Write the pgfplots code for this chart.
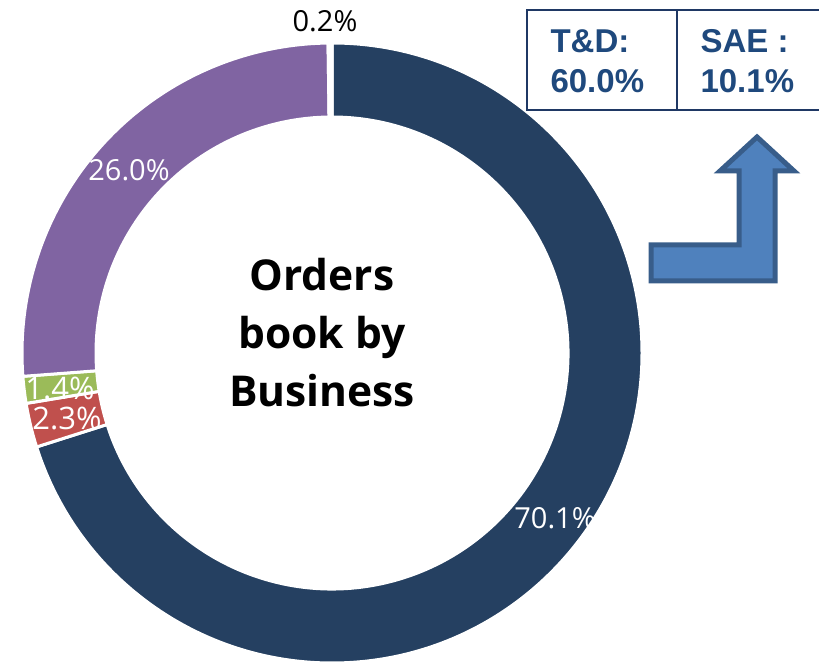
\documentclass[border=0pt]{standalone}
\usepackage{pgfplots}
\pgfplotsset{compat=1.18}
\usepackage{pgfplotstable}
\usetikzlibrary{calc}
\usepackage{fontspec}
\setmainfont{Open Sans}
\newfontfamily\boxfont{Liberation Sans}
\definecolor{cnavy}{HTML}{254061}
\definecolor{cred}{HTML}{C0504D}
\definecolor{cgreen}{HTML}{9BBB59}
\definecolor{cpurple}{HTML}{8064A2}
\definecolor{cboxtxt}{HTML}{1F497D}
\definecolor{cboxline}{HTML}{1F3864}
\definecolor{carrow}{HTML}{4F81BD}
\definecolor{carrowline}{HTML}{385D8A}

\pgfplotstableread{
label value
Navy 70.1
Red 2.3
Green 1.4
Purple 26.0
Other 0.2
}\donutdata

\begin{document}
\begin{tikzpicture}
\pgfplotstablegetelem{0}{value}\of\donutdata \let\vA\pgfplotsretval
\pgfplotstablegetelem{1}{value}\of\donutdata \let\vB\pgfplotsretval
\pgfplotstablegetelem{2}{value}\of\donutdata \let\vC\pgfplotsretval
\pgfplotstablegetelem{3}{value}\of\donutdata \let\vD\pgfplotsretval
\pgfplotstablegetelem{4}{value}\of\donutdata \let\vE\pgfplotsretval
\pgfmathsetmacro\aA{90}
\pgfmathsetmacro\aB{\aA-3.6*\vA}
\pgfmathsetmacro\aC{\aB-3.6*\vB}
\pgfmathsetmacro\aD{\aC-3.6*\vC}
\pgfmathsetmacro\aE{\aD-3.6*\vD}
\pgfmathsetmacro\aF{\aE-3.6*\vE}
\useasboundingbox (0,0) rectangle (819pt,664pt);
\begin{axis}[
  x=1pt, y=1pt,
  xmin=0, xmax=819, ymin=0, ymax=664,
  hide axis, clip=false,
  anchor=origin, at={(0,0)},
]
\newcommand\slice[3]{%
  \fill[#3,draw=white,line width=3pt]
    ($(axis cs:332,311)+(#1:310pt)$) arc[start angle=#1,end angle=#2,radius=310pt]
    -- ($(axis cs:332,311)+(#2:236pt)$) arc[start angle=#2,end angle=#1,radius=236pt] -- cycle;}
\slice{\aA}{\aB}{cnavy}
\slice{\aB}{\aC}{cred}
\slice{\aC}{\aD}{cgreen}
\slice{\aD}{\aE}{cpurple}
\slice{\aE}{\aF}{white}

\node[text=white,font=\fontsize{29}{34}\selectfont] at (axis cs:555,146) {70.1\%};
\node[text=white,font=\fontsize{29}{34}\selectfont] at (axis cs:129,494) {26.0\%};
\node[text=white,font=\fontsize{31}{36}\selectfont] at (axis cs:60,276) {1.4\%};
\node[text=white,font=\fontsize{31}{36}\selectfont] at (axis cs:67,246) {2.3\%};
\node[text=black,font=\fontsize{29}{34}\selectfont] at (axis cs:325,643) {0.2\%};

\node[align=center,font=\bfseries\fontsize{42.5}{58}\selectfont] at (axis cs:322,331) {Orders\\book by\\Business};

% box
\draw[cboxline,line width=2.5pt] (axis cs:527,654) rectangle (axis cs:840,554);
\draw[cboxline,line width=2.5pt] (axis cs:677,654) -- (axis cs:677,554);
\node[anchor=base west,text=cboxtxt,font=\boxfont\bfseries\fontsize{33}{40}\selectfont] at (axis cs:547,611) {T\&D:};
\node[anchor=base west,text=cboxtxt,font=\boxfont\bfseries\fontsize{33}{40}\selectfont] at (axis cs:547,571) {60.0\%};
\node[anchor=base west,text=cboxtxt,font=\boxfont\bfseries\fontsize{33}{40}\selectfont] at (axis cs:697,611) {SAE :};
\node[anchor=base west,text=cboxtxt,font=\boxfont\bfseries\fontsize{33}{40}\selectfont] at (axis cs:697,571) {10.1\%};

% arrow
\filldraw[fill=carrow,draw=carrowline,line width=5pt,line join=miter]
  (axis cs:651,419) -- (axis cs:739,419) -- (axis cs:739,493) -- (axis cs:720,493)
  -- (axis cs:757,527) -- (axis cs:794,493) -- (axis cs:775,493) -- (axis cs:775,383)
  -- (axis cs:651,383) -- cycle;
\end{axis}
\end{tikzpicture}
\end{document}
